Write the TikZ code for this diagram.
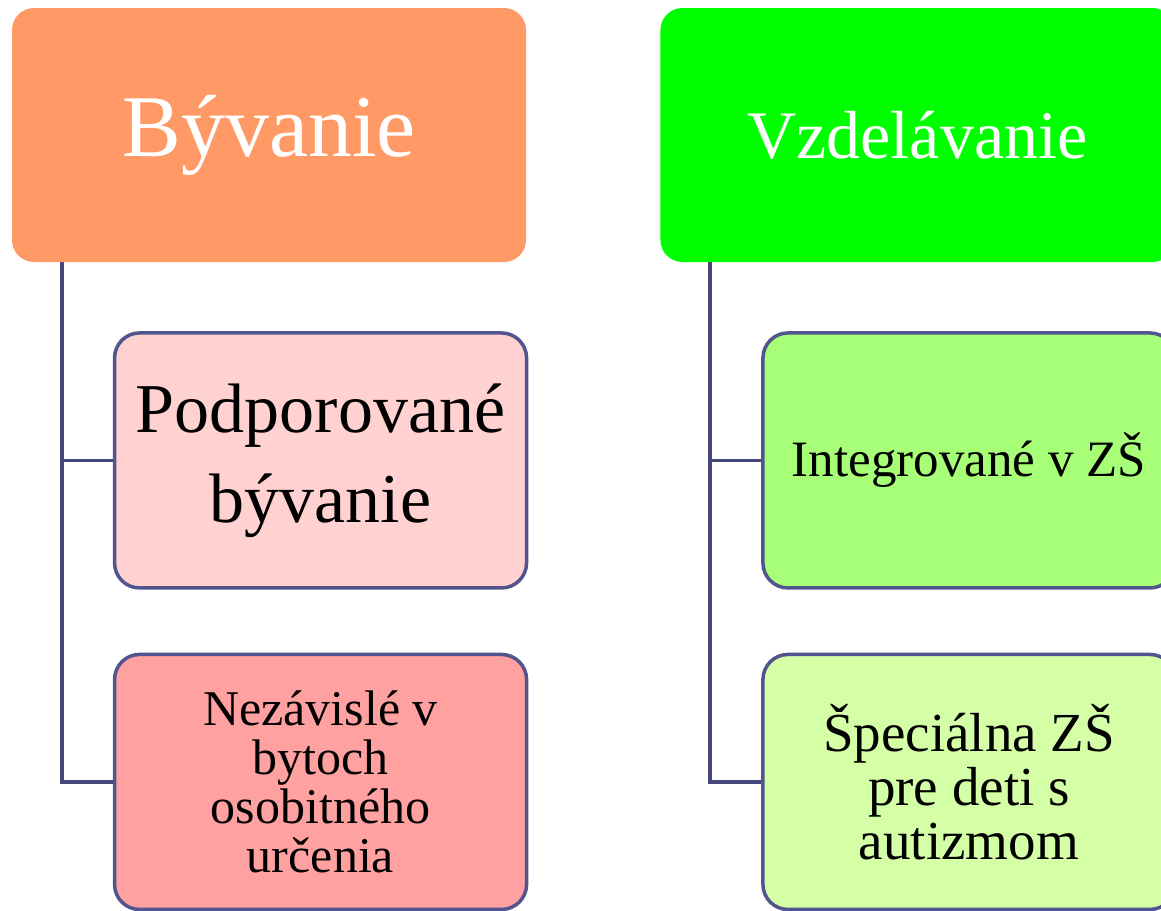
\documentclass[tikz,border=0pt]{standalone}
\usepackage{fontspec}
\setmainfont{Liberation Serif}
\usetikzlibrary{positioning}
\definecolor{headorange}{RGB}{255,153,102}
\definecolor{headgreen}{RGB}{0,255,0}
\definecolor{pinklight}{RGB}{255,209,209}
\definecolor{pinkdark}{RGB}{255,161,161}
\definecolor{greenmid}{RGB}{166,255,118}
\definecolor{greenlight}{RGB}{212,255,166}
\definecolor{boxborder}{RGB}{82,84,142}
\definecolor{treeline}{RGB}{70,72,122}
\tikzstyle{head} = [rectangle, rounded corners=22pt, minimum width=514pt,
minimum height=254pt, text=white, inner sep=0pt]
\tikzstyle{sub} = [rectangle, draw=boxborder, line width=3.5pt, rounded corners=25pt,
minimum width=412pt, minimum height=255pt, align=center, inner sep=0pt]
\tikzstyle{line} = [draw, treeline, line width=3.5pt]

\begin{document}
\begin{tikzpicture}[x=1pt, y=-1pt]
\path[use as bounding box, clip] (0,0) rectangle (1161,910);
% Place nodes
\node [head, fill=headorange, font=\fontsize{88}{100}\selectfont] (byv) at (269,135) {Bývanie};
\node [head, fill=headgreen, font=\fontsize{68}{80}\selectfont, right=134pt of byv] (vzd) {Vzdelávanie};
\node [sub, fill=pinklight, font=\fontsize{70}{90}\selectfont, anchor=north west]
  (podp) at ([xshift=101pt, yshift=-69pt]byv.south west) {Podporované\\bývanie};
\node [sub, fill=pinkdark, font=\fontsize{50}{49}\selectfont, below=63pt of podp]
  (nez) {Nezávislé v\\bytoch\\osobitného\\určenia};
\node [sub, fill=greenmid, font=\fontsize{51}{60}\selectfont, anchor=north west]
  (integ) at ([xshift=101pt, yshift=-69pt]vzd.south west) {Integrované v ZŠ};
\node [sub, fill=greenlight, font=\fontsize{55}{54}\selectfont, below=63pt of integ]
  (spec) {Špeciálna ZŠ\\pre deti s\\autizmom};

% Draw edges
\path [line] ([xshift=50pt]byv.south west) |- (podp.west);
\path [line] ([xshift=50pt]byv.south west) |- (nez.west);
\path [line] ([xshift=50pt]vzd.south west) |- (integ.west);
\path [line] ([xshift=50pt]vzd.south west) |- (spec.west);
\end{tikzpicture}
\end{document}
